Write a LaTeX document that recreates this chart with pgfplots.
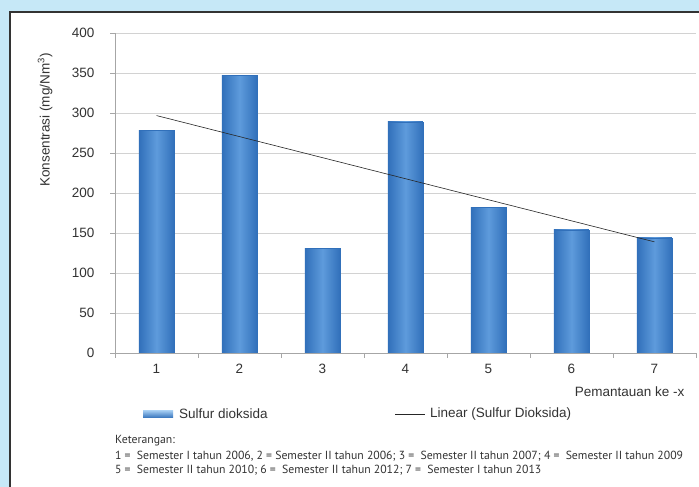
\documentclass[border=0pt]{standalone}
\usepackage{pgfplots}
\pgfplotsset{compat=1.18}
\usepackage{fontspec}
\setmainfont{Liberation Sans}
\newfontfamily\notefont{PT Sans}
\definecolor{bgblue}{HTML}{C6E8F7}
\definecolor{bardark}{HTML}{3170BA}
\definecolor{barmid}{HTML}{5E9BDC}
\definecolor{barlight}{HTML}{9CC6EE}
\definecolor{gridc}{HTML}{D2D2D2}
\definecolor{axisc}{HTML}{A6A6A6}
\definecolor{txt}{HTML}{333333}
\begin{document}
\begin{tikzpicture}[x=1pt,y=1pt]
\useasboundingbox (0,0) rectangle (699,487);
\fill[bgblue] (0,0) rectangle (699,487);
\fill[white] (10,-10) rectangle (710,475);
\draw[line width=2pt, black!80] (10,-10) -- (10,475) -- (710,475);
\begin{axis}[
  at={(115pt,134pt)}, anchor=south west,
  scale only axis, width=581pt, height=320pt,
  xmin=0.5, xmax=7.5, ymin=0, ymax=400,
  xtick={1,...,7},
  minor xtick={0.5,1.5,...,7.5},
  ytick={0,50,...,400},
  ymajorgrids,
  grid style={gridc, line width=0.8pt},
  axis x line*=bottom, axis y line*=left,
  axis line style={axisc, line width=0.8pt, -},
  tick align=outside,
  major tick length=5pt, minor tick length=5pt,
  major x tick style={draw=none},
  minor x tick style={axisc, line width=0.8pt},
  major y tick style={axisc, line width=0.8pt},
  /pgf/number format/assume math mode=true,
  tick label style={font=\fontsize{13.5}{16}\selectfont, text=txt},
  yticklabel style={xshift=-12pt},
  xticklabel style={yshift=-3pt},
  xlabel={Pemantauan ke -x},
  xlabel style={at={(axis description cs:0.986,-0.122)}, anchor=east, font=\fontsize{13.5}{16}\selectfont, text=txt},
  ylabel={Konsentrasi (mg/Nm\textsuperscript{3})},
  ylabel style={at={(axis description cs:-0.1205,0.728)}, anchor=center, font=\fontsize{13.5}{16}\selectfont, text=txt},
  sulfur/.style={ybar, bar width=35pt, bar shift=0pt, draw=bardark, line width=0.4pt, left color=bardark, right color=bardark, middle color=barmid, forget plot},
]
\addplot[sulfur] coordinates {(1,278)};
\addplot[sulfur] coordinates {(2,347)};
\addplot[sulfur] coordinates {(3,131)};
\addplot[sulfur] coordinates {(4,289)};
\addplot[sulfur] coordinates {(5,182)};
\addplot[sulfur] coordinates {(6,154)};
\addplot[sulfur] coordinates {(7,144)};
\addplot[black!85, line width=0.6pt] coordinates {(1,296.8) (7,138.9)};
\end{axis}
% legend
\shade[top color=barlight, bottom color=bardark] (143,69) rectangle (173,76);
\node[anchor=west, inner sep=0pt, text=txt, font=\fontsize{13.5}{16}\selectfont] at (179,73) {Sulfur dioksida};
\draw[black!85, line width=0.6pt] (395,73) -- (425,73);
\node[anchor=west, inner sep=0pt, text=txt, font=\fontsize{13.5}{16}\selectfont] at (430,73) {Linear (Sulfur Dioksida)};
% notes
\node[anchor=base west, inner sep=0pt, text=txt, font=\notefont\fontsize{11.75}{13}\selectfont] at (115,43) {Keterangan:};
\node[anchor=base west, inner sep=0pt, text=txt, font=\notefont\fontsize{11.75}{13}\selectfont] at (115,27) {1 =\ \ Semester I tahun 2006, 2 = Semester II tahun 2006; 3 =\ \ Semester II tahun 2007; 4 =\ \ Semester II tahun 2009};
\node[anchor=base west, inner sep=0pt, text=txt, font=\notefont\fontsize{11.75}{13}\selectfont] at (115,13) {5 =\ \ Semester II tahun 2010; 6 =\ \ Semester II tahun 2012; 7 =\ \ Semester I tahun 2013};
\end{tikzpicture}
\end{document}
